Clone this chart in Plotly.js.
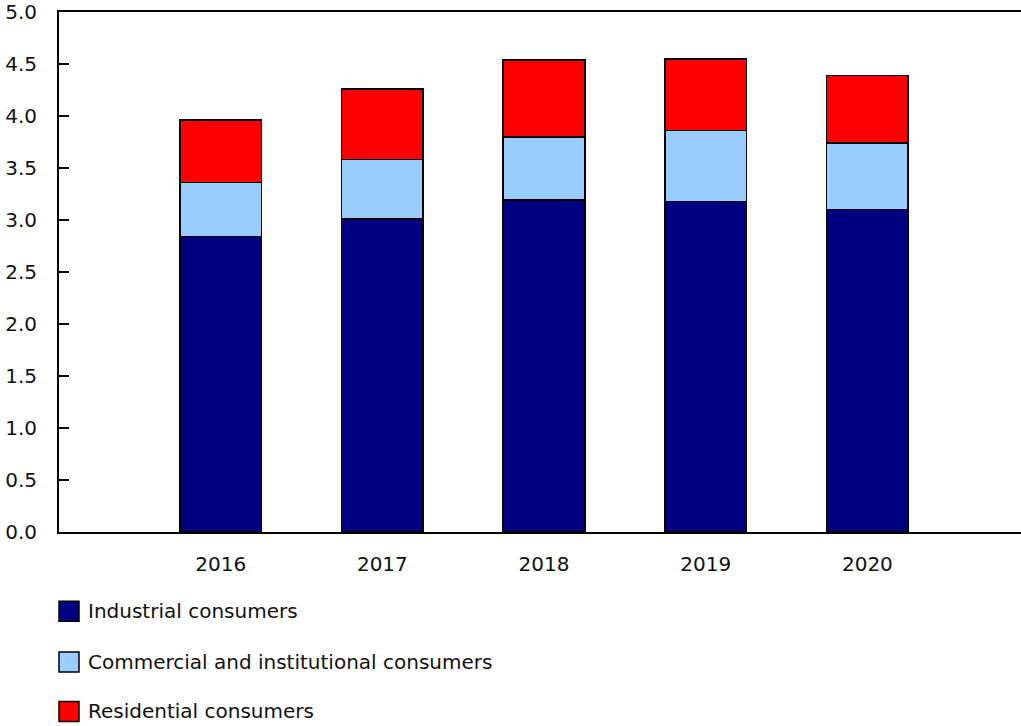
<!DOCTYPE html>
<html>
<head>
<meta charset="utf-8">
<script src="https://cdn.plot.ly/plotly-3.0.1.min.js"></script>
<style>html,body{margin:0;padding:0;background:#fff;}#chart{width:1021px;height:726px;}</style>
</head>
<body>
<div id="chart"></div>
<script>
var years = ["2016", "2017", "2018", "2019", "2020"];
var industrial = [2.84, 3.01, 3.19, 3.18, 3.10];
var commercial = [0.52, 0.57, 0.61, 0.68, 0.64];
var residential = [0.60, 0.68, 0.74, 0.69, 0.65];
var seriesNames = ["Industrial consumers", "Commercial and institutional consumers", "Residential consumers"];
var seriesColors = ["#000080", "#99CCFF", "#FF0000"];
var yTicks = [0, 0.5, 1, 1.5, 2, 2.5, 3, 3.5, 4, 4.5, 5];

var seriesValues = [industrial, commercial, residential];
var traces = seriesValues.map(function (vals, i) {
  return {
    type: "bar",
    x: years,
    y: vals,
    name: seriesNames[i],
    marker: { color: seriesColors[i], line: { color: "#000000", width: 1.5 } },
    width: 0.505,
    hoverinfo: "x+y+name",
    showlegend: false
  };
});

var legendY = [-0.1526, -0.2502, -0.345];
var shapes = [], annotations = [];
seriesNames.forEach(function (n, i) {
  shapes.push({
    type: "rect", xref: "paper", yref: "paper",
    xsizemode: "pixel", ysizemode: "pixel",
    xanchor: 0, yanchor: legendY[i],
    x0: 0, x1: 20, y0: -10, y1: 10,
    fillcolor: seriesColors[i], line: { color: "#000000", width: 1.5 }
  });
  annotations.push({
    xref: "paper", yref: "paper", x: 0.0285, y: legendY[i],
    xanchor: "left", yanchor: "middle", showarrow: false,
    text: n, font: { family: "DejaVu Sans, Verdana, sans-serif", size: 20, color: "#111111" }
  });
});

var layout = {
  width: 1021, height: 726,
  margin: { l: 59, r: 0, t: 12, b: 194, pad: 0 },
  paper_bgcolor: "#ffffff", plot_bgcolor: "#ffffff",
  barmode: "stack",
  showlegend: false,
  font: { family: "DejaVu Sans, Verdana, sans-serif", size: 20, color: "#111111" },
  xaxis: {
    type: "category",
    range: [-1, 4.95],
    showline: true, linecolor: "#000000", linewidth: 2,
    mirror: true,
    ticks: "", showgrid: false, zeroline: false,
    ticklabelstandoff: 13,
    fixedrange: true
  },
  yaxis: {
    range: [0, 5],
    tickvals: yTicks,
    tickformat: ".1f",
    ticks: "inside", ticklen: 10, tickwidth: 2, tickcolor: "#000000",
    showline: true, linecolor: "#000000", linewidth: 2,
    showgrid: false, zeroline: false,
    ticklabelstandoff: 16,
    fixedrange: true
  },
  shapes: shapes,
  annotations: annotations
};

Plotly.newPlot("chart", traces, layout, { displayModeBar: false, staticPlot: false });
</script>
</body>
</html>
